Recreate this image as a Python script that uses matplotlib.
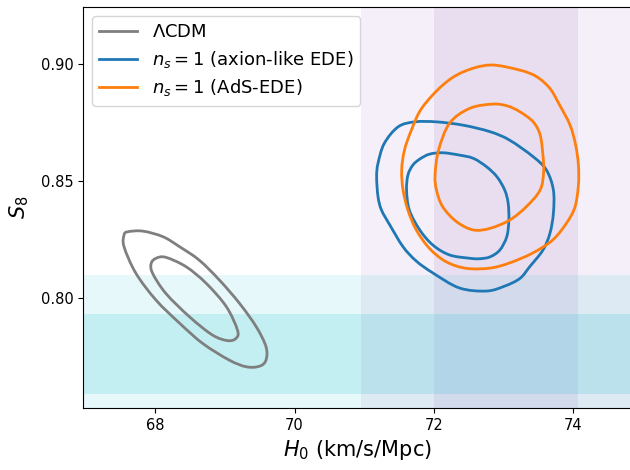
import numpy as np
import matplotlib
matplotlib.use("Agg")
import matplotlib.pyplot as plt
from matplotlib.path import Path
from matplotlib.patches import PathPatch
from matplotlib.lines import Line2D

# SH0ES H0 and weak-lensing S8 bands (1 sigma, 2 sigma)
h0_1sig = (72.00, 74.08)
h0_2sig = (70.96, 75.12)
s8_1sig = (0.759, 0.793)
s8_2sig = (0.742, 0.810)

# contour outlines (H0, S8)
lcdm_outer_h0 = [67.60, 67.82, 68.11, 68.35, 68.63, 68.92, 69.21, 69.45, 69.59, 69.59,
                 69.50, 69.31, 69.06, 68.68, 68.35, 68.01, 67.72, 67.55, 67.55]
lcdm_outer_s8 = [0.8283, 0.8286, 0.8262, 0.8219, 0.8162, 0.8077, 0.7977, 0.7877, 0.7792, 0.7735,
                 0.7709, 0.7706, 0.7735, 0.7806, 0.7892, 0.7991, 0.8106, 0.8219, 0.8269]
lcdm_inner_h0 = [68.01, 68.15, 68.44, 68.73, 69.02, 69.18, 69.16, 69.04, 68.82, 68.49,
                 68.15, 67.96, 67.94]
lcdm_inner_s8 = [0.8170, 0.8174, 0.8134, 0.8063, 0.7963, 0.7863, 0.7828, 0.7818, 0.7842, 0.7920,
                 0.8020, 0.8106, 0.8148]

axion_outer_h0 = [71.18, 71.20, 71.29, 71.49, 71.73, 72.04, 72.42, 72.81, 73.09, 73.43, 73.62, 73.72,
                  73.72, 73.67, 73.57, 73.38, 73.24, 73.02, 72.76, 72.37, 71.99, 71.75, 71.56, 71.37,
                  71.25, 71.20]
axion_outer_s8 = [0.8518, 0.8576, 0.8661, 0.8732, 0.8753, 0.8753, 0.8739, 0.8711, 0.8675, 0.8604,
                  0.8547, 0.8462, 0.8362, 0.8276, 0.8205, 0.8134, 0.8084, 0.8051, 0.8030, 0.8043,
                  0.8107, 0.8158, 0.8219, 0.8312, 0.8376, 0.8433]
axion_inner_h0 = [71.61, 71.63, 71.70, 71.80, 71.94, 72.13, 72.37, 72.57, 72.76, 72.91, 73.02, 73.07,
                  73.08, 73.05, 72.95, 72.81, 72.66, 72.52, 72.23, 71.99, 71.80, 71.65]
axion_inner_s8 = [0.8462, 0.8526, 0.8568, 0.8594, 0.8615, 0.8621, 0.8611, 0.8597, 0.8561, 0.8518,
                  0.8462, 0.8406, 0.8333, 0.8262, 0.8205, 0.8176, 0.8168, 0.8170, 0.8184, 0.8226,
                  0.8291, 0.8376]

ads_outer_h0 = [72.81, 73.24, 73.48, 73.67, 73.81, 73.96, 74.04, 74.08, 74.08, 74.03, 73.91, 73.71,
                73.42, 73.09, 72.81, 72.47, 72.18, 71.94, 71.75, 71.63, 71.56, 71.54, 71.58, 71.68,
                71.83, 72.13, 72.42]
ads_outer_s8 = [0.8996, 0.8974, 0.8946, 0.8896, 0.8825, 0.8739, 0.8654, 0.8568, 0.8483, 0.8389,
                0.8321, 0.8248, 0.8192, 0.8150, 0.8128, 0.8127, 0.8155, 0.8212, 0.8291, 0.8376,
                0.8462, 0.8547, 0.8632, 0.8718, 0.8812, 0.8910, 0.8966]
ads_inner_h0 = [72.85, 73.06, 73.24, 73.43, 73.53, 73.57, 73.58, 73.53, 73.33, 73.09, 72.81, 72.57,
                72.33, 72.13, 72.04, 72.02, 72.07, 72.23, 72.52]
ads_inner_s8 = [0.8829, 0.8821, 0.8796, 0.8753, 0.8697, 0.8611, 0.8540, 0.8462, 0.8390, 0.8333,
                0.8298, 0.8291, 0.8326, 0.8390, 0.8462, 0.8526, 0.8632, 0.8748, 0.8811]


def smooth_loop(ax, xs, ys, **kw):
    # closed Bezier path through the points, built in display space
    pts = ax.transData.transform(np.column_stack([xs, ys]))
    n = len(pts)
    verts = [pts[0]]
    codes = [Path.MOVETO]
    for i in range(n):
        p0, p1, p2, p3 = pts[i - 1], pts[i], pts[(i + 1) % n], pts[(i + 2) % n]
        verts += [p1 + (p2 - p0) / 6, p2 - (p3 - p1) / 6, p2]
        codes += [Path.CURVE4] * 3
    ax.add_patch(PathPatch(Path(verts, codes), transform=None, fill=False, **kw))


fig = plt.figure(figsize=(6.3, 4.7), dpi=100)
ax = fig.add_axes([83 / 630, 62 / 470, 549 / 630, 401 / 470])
ax.set_xlim(66.96, 74.85)
ax.set_ylim(0.753, 0.9244)

ax.axvspan(*h0_2sig, color='tab:purple', alpha=0.1, lw=0)
ax.axvspan(*h0_1sig, color='tab:purple', alpha=0.12, lw=0)
ax.axhspan(*s8_2sig, color='tab:cyan', alpha=0.1, lw=0)
ax.axhspan(*s8_1sig, color='tab:cyan', alpha=0.17, lw=0)

contours = [
    ('tab:gray', r'$\Lambda$CDM', [(lcdm_outer_h0, lcdm_outer_s8), (lcdm_inner_h0, lcdm_inner_s8)]),
    ('tab:blue', r'$n_s=1$ (axion-like EDE)', [(axion_outer_h0, axion_outer_s8), (axion_inner_h0, axion_inner_s8)]),
    ('tab:orange', r'$n_s=1$ (AdS-EDE)', [(ads_outer_h0, ads_outer_s8), (ads_inner_h0, ads_inner_s8)]),
]
handles = []
for color, label, curves in contours:
    for xs, ys in curves:
        smooth_loop(ax, xs, ys, edgecolor=color, lw=2, zorder=3)
    handles.append(Line2D([], [], color=color, lw=2, label=label))

ax.set_xticks([68, 70, 72, 74])
ax.set_yticks([0.80, 0.85, 0.90])
ax.tick_params(labelsize=10.5)
ax.set_xlabel(r'$H_0$ (km/s/Mpc)', fontsize=15)
ax.set_ylabel(r'$S_8$', fontsize=15, labelpad=7)
ax.legend(handles=handles, loc='upper left', fontsize=13, handlelength=2.1, labelspacing=0.42)

fig.savefig('out.png', dpi=100)
